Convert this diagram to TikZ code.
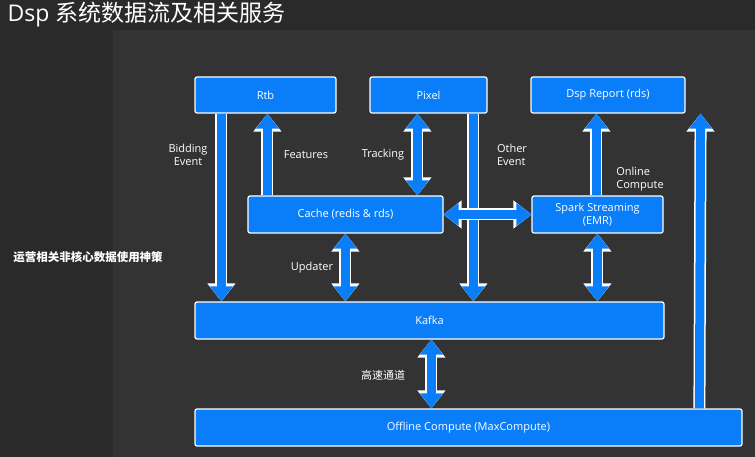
\documentclass[tikz,border=0pt]{standalone}
\usepackage{fontspec}
\setmainfont{Open Sans}
\newfontfamily\cjk{Noto Sans CJK SC}
\usetikzlibrary{arrows.meta}
\definecolor{boxblue}{HTML}{0A7DF8}
\definecolor{bgdark}{HTML}{2A2A2A}
\definecolor{bgpanel}{HTML}{333333}
\tikzset{
  svc/.style={draw=white,line width=1.2pt,fill=boxblue,rounded corners=2pt,
    text=white,font=\fontsize{11}{13}\selectfont,inner sep=0pt},
  flow/.style={boxblue,line width=9pt,-{Triangle[length=15pt,width=22pt]},
    preaction={draw=white,line width=12pt,-{Triangle[length=18pt,width=27pt]}}},
  dflow/.style={boxblue,line width=9pt,{Triangle[length=15pt,width=22pt]}-{Triangle[length=15pt,width=22pt]},
    preaction={draw=white,line width=12pt,{Triangle[length=18pt,width=27pt]}-{Triangle[length=18pt,width=27pt]}}},
  lbl/.style={text=white,font=\fontsize{11}{13}\selectfont,align=left,inner sep=0pt}
}
\begin{document}
\begin{tikzpicture}[x=1pt,y=-1pt]
  \useasboundingbox (0,0) rectangle (755,457);
  \fill[bgdark] (0,0) rectangle (755,457);
  \fill[bgpanel] (113,30) rectangle (755,457);
  \node[anchor=west,text=white,font=\fontsize{23}{26}\selectfont] (title) at (4,15)
    {Dsp {\cjk 系统数据流及相关服务}};
  \node[text=white,font=\cjk\bfseries\fontsize{11.5}{13}\selectfont] (note) at (88,257)
    {运营相关非核心数据使用神策};
  % services
  \node[svc,minimum width=141,minimum height=36] (rtb) at (265.5,95) {Rtb};
  \node[svc,minimum width=117,minimum height=36] (pixel) at (428.5,95) {Pixel};
  \node[svc,minimum width=154,minimum height=36] (dsp) at (608,95) {Dsp Report (rds)};
  \node[svc,minimum width=195,minimum height=37] (cache) at (345.5,214.5) {Cache (redis \& rds)};
  \node[svc,minimum width=131,minimum height=37,align=center] (spark) at (597.5,214.5)
    {Spark Streaming\\(EMR)};
  \node[svc,minimum width=469,minimum height=37] (kafka) at (429.5,320.5) {Kafka};
  \node[svc,minimum width=547,minimum height=37] (offline) at (468.5,427.5)
    {Offline Compute (MaxCompute)};
  % flows
  \draw[flow] ([xshift=27]rtb.south west) -- ([xshift=27]kafka.north west);
  \draw[flow] ([xshift=20]cache.north west) -- ([xshift=73]rtb.south west);
  \draw[dflow] ([xshift=48]pixel.south west) -- ([xshift=170]cache.north west);
  \draw[flow] ([xshift=104]pixel.south west) -- ([xshift=279]kafka.north west);
  \draw[dflow] (cache.east) -- (spark.west);
  \draw[flow] ([xshift=65]spark.north west) -- ([xshift=66]dsp.south west);
  \draw[dflow] ([xshift=98]cache.south west) -- ([xshift=151]kafka.north west);
  \draw[dflow] ([xshift=66]spark.south west) -- ([xshift=403]kafka.north west);
  \draw[flow] ([xshift=505]offline.north west) -- ([xshift=15]dsp.south east);
  \draw[dflow] ([xshift=237]kafka.south west) -- ([xshift=237]offline.north west);
  % labels
  \node[lbl,align=center] (lbid) at (188,155) {Bidding\\Event};
  \node[lbl] (lfeat) at (306,155) {Features};
  \node[lbl] (ltrack) at (383,155) {Tracking};
  \node[lbl] (lother) at (512,155) {Other\\Event};
  \node[lbl] (lonline) at (640,179) {Online\\Compute};
  \node[lbl] (lupd) at (312,268) {Updater};
  \node[lbl,font=\cjk\fontsize{11}{13}\selectfont] (lfast) at (383,375) {高速通道};
\end{tikzpicture}
\end{document}
